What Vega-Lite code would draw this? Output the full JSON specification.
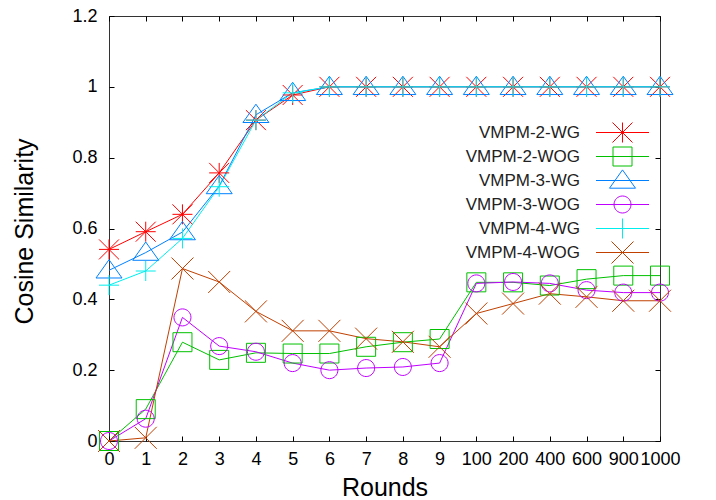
{
  "$schema": "https://vega.github.io/schema/vega-lite/v6.json",
  "width": 551,
  "height": 425,
  "autosize": "none",
  "padding": {"left": 109, "top": 16, "right": 56, "bottom": 59},
  "background": "white",
  "config": {
    "view": {"stroke": "#333", "strokeWidth": 1},
    "axis": {
      "labelFont": "Liberation Sans", "titleFont": "Liberation Sans",
      "labelColor": "#000", "titleColor": "#000", "tickColor": "#000",
      "domain": false, "grid": false, "tickSize": -5, "tickWidth": 1,
      "labelFontSize": 18, "titleFontSize": 25, "titleFontWeight": "normal"
    },
    "legend": {
      "labelFont": "Liberation Sans", "labelFontSize": 17, "labelColor": "#222"
    },
    "point": {"filled": false, "strokeWidth": 1, "size": 400, "opacity": 1}
  },
  "data": {"values": [
    {"r":"0","s":"VMPM-2-WG","v":0.541},{"r":"1","s":"VMPM-2-WG","v":0.591},{"r":"2","s":"VMPM-2-WG","v":0.64},{"r":"3","s":"VMPM-2-WG","v":0.757},{"r":"4","s":"VMPM-2-WG","v":0.906},{"r":"5","s":"VMPM-2-WG","v":0.977},{"r":"6","s":"VMPM-2-WG","v":1},{"r":"7","s":"VMPM-2-WG","v":1},{"r":"8","s":"VMPM-2-WG","v":1},{"r":"9","s":"VMPM-2-WG","v":1},{"r":"100","s":"VMPM-2-WG","v":1},{"r":"200","s":"VMPM-2-WG","v":1},{"r":"400","s":"VMPM-2-WG","v":1},{"r":"600","s":"VMPM-2-WG","v":1},{"r":"900","s":"VMPM-2-WG","v":1},{"r":"1000","s":"VMPM-2-WG","v":1},
    {"r":"0","s":"VMPM-2-WOG","v":0},{"r":"1","s":"VMPM-2-WOG","v":0.09},{"r":"2","s":"VMPM-2-WOG","v":0.279},{"r":"3","s":"VMPM-2-WOG","v":0.229},{"r":"4","s":"VMPM-2-WOG","v":0.249},{"r":"5","s":"VMPM-2-WOG","v":0.247},{"r":"6","s":"VMPM-2-WOG","v":0.247},{"r":"7","s":"VMPM-2-WOG","v":0.266},{"r":"8","s":"VMPM-2-WOG","v":0.279},{"r":"9","s":"VMPM-2-WOG","v":0.288},{"r":"100","s":"VMPM-2-WOG","v":0.448},{"r":"200","s":"VMPM-2-WOG","v":0.448},{"r":"400","s":"VMPM-2-WOG","v":0.439},{"r":"600","s":"VMPM-2-WOG","v":0.457},{"r":"900","s":"VMPM-2-WOG","v":0.467},{"r":"1000","s":"VMPM-2-WOG","v":0.467},
    {"r":"0","s":"VMPM-3-WG","v":0.482},{"r":"1","s":"VMPM-3-WG","v":0.532},{"r":"2","s":"VMPM-3-WG","v":0.59},{"r":"3","s":"VMPM-3-WG","v":0.72},{"r":"4","s":"VMPM-3-WG","v":0.921},{"r":"5","s":"VMPM-3-WG","v":0.983},{"r":"6","s":"VMPM-3-WG","v":1},{"r":"7","s":"VMPM-3-WG","v":1},{"r":"8","s":"VMPM-3-WG","v":1},{"r":"9","s":"VMPM-3-WG","v":1},{"r":"100","s":"VMPM-3-WG","v":1},{"r":"200","s":"VMPM-3-WG","v":1},{"r":"400","s":"VMPM-3-WG","v":1},{"r":"600","s":"VMPM-3-WG","v":1},{"r":"900","s":"VMPM-3-WG","v":1},{"r":"1000","s":"VMPM-3-WG","v":1},
    {"r":"0","s":"VMPM-3-WOG","v":0},{"r":"1","s":"VMPM-3-WOG","v":0.063},{"r":"2","s":"VMPM-3-WOG","v":0.349},{"r":"3","s":"VMPM-3-WOG","v":0.268},{"r":"4","s":"VMPM-3-WOG","v":0.252},{"r":"5","s":"VMPM-3-WOG","v":0.22},{"r":"6","s":"VMPM-3-WOG","v":0.2},{"r":"7","s":"VMPM-3-WOG","v":0.206},{"r":"8","s":"VMPM-3-WOG","v":0.209},{"r":"9","s":"VMPM-3-WOG","v":0.22},{"r":"100","s":"VMPM-3-WOG","v":0.445},{"r":"200","s":"VMPM-3-WOG","v":0.449},{"r":"400","s":"VMPM-3-WOG","v":0.445},{"r":"600","s":"VMPM-3-WOG","v":0.426},{"r":"900","s":"VMPM-3-WOG","v":0.419},{"r":"1000","s":"VMPM-3-WOG","v":0.419},
    {"r":"0","s":"VMPM-4-WG","v":0.44},{"r":"1","s":"VMPM-4-WG","v":0.48},{"r":"2","s":"VMPM-4-WG","v":0.572},{"r":"3","s":"VMPM-4-WG","v":0.718},{"r":"4","s":"VMPM-4-WG","v":0.906},{"r":"5","s":"VMPM-4-WG","v":0.983},{"r":"6","s":"VMPM-4-WG","v":1},{"r":"7","s":"VMPM-4-WG","v":1},{"r":"8","s":"VMPM-4-WG","v":1},{"r":"9","s":"VMPM-4-WG","v":1},{"r":"100","s":"VMPM-4-WG","v":1},{"r":"200","s":"VMPM-4-WG","v":1},{"r":"400","s":"VMPM-4-WG","v":1},{"r":"600","s":"VMPM-4-WG","v":1},{"r":"900","s":"VMPM-4-WG","v":1},{"r":"1000","s":"VMPM-4-WG","v":1},
    {"r":"0","s":"VMPM-4-WOG","v":0},{"r":"1","s":"VMPM-4-WOG","v":0.009},{"r":"2","s":"VMPM-4-WOG","v":0.487},{"r":"3","s":"VMPM-4-WOG","v":0.449},{"r":"4","s":"VMPM-4-WOG","v":0.366},{"r":"5","s":"VMPM-4-WOG","v":0.311},{"r":"6","s":"VMPM-4-WOG","v":0.311},{"r":"7","s":"VMPM-4-WOG","v":0.289},{"r":"8","s":"VMPM-4-WOG","v":0.28},{"r":"9","s":"VMPM-4-WOG","v":0.266},{"r":"100","s":"VMPM-4-WOG","v":0.36},{"r":"200","s":"VMPM-4-WOG","v":0.388},{"r":"400","s":"VMPM-4-WOG","v":0.416},{"r":"600","s":"VMPM-4-WOG","v":0.407},{"r":"900","s":"VMPM-4-WOG","v":0.396},{"r":"1000","s":"VMPM-4-WOG","v":0.396}
  ]},
  "resolve": {"axis": {"x": "independent", "y": "independent"}},
  "layer": [
    {
      "mark": {"type": "line", "strokeWidth": 1},
      "encoding": {
        "x": {"field": "r", "type": "ordinal", "sort": ["0","1","2","3","4","5","6","7","8","9","100","200","400","600","900","1000"],
              "scale": {"type": "point", "padding": 0},
              "axis": {"orient": "bottom", "title": "Rounds", "labelAngle": 0, "labelOverlap": false, "labelBound": false, "labelPadding": 14, "titleY": 54, "titleBaseline": "alphabetic"}},
        "y": {"field": "v", "type": "quantitative", "scale": {"domain": [0, 1.2], "nice": false},
              "axis": {"orient": "left", "title": "Cosine Similarity", "values": [0,0.2,0.4,0.6,0.8,1,1.2], "format": "~g", "labelPadding": 17, "titleX": -77, "titleY": 215, "titleAngle": -90, "titleBaseline": "alphabetic", "titleAlign": "center"}},
        "color": {"field": "s", "type": "nominal",
                  "scale": {"domain": ["VMPM-2-WG","VMPM-2-WOG","VMPM-3-WG","VMPM-3-WOG","VMPM-4-WG","VMPM-4-WOG"], "range": ["#ff0000","#00c000","#0080ff","#c000ff","#00eeee","#c04000"]},
                  "legend": {"orient": "none", "legendX": 503, "legendY": 106, "direction": "vertical", "title": null, "labelAlign": "right", "labelOffset": -53, "symbolSize": 400, "symbolStrokeWidth": 1, "symbolFillColor": "transparent", "rowPadding": -6.4, "padding": 0,
                             "symbolType": {"expr": "['M-1,0L1,0M0,-1L0,1M-1,-1L1,1M-1,1L1,-1','M-0.95,-0.95L0.95,-0.95L0.95,0.95L-0.95,0.95Z','M0,-1.06L1.3,0.77L-1.3,0.77Z','M0.85,0A0.85,0.85,0,1,1,-0.85,0A0.85,0.85,0,1,1,0.85,0Z','M-1,0L1,0M0,-1L0,1','M-1.1,-1.1L1.1,1.1M-1.1,1.1L1.1,-1.1'][indexof(['VMPM-2-WG','VMPM-2-WOG','VMPM-3-WG','VMPM-3-WOG','VMPM-4-WG','VMPM-4-WOG'], datum.value)] + 'M-2.65,0L2.65,0M0,-1.1M0,1.1'"}}}
      }
    },
    {
      "transform": [{"filter": {"field": "s", "equal": "VMPM-2-WG"}}],
      "mark": {"type": "point", "stroke": "#ff0000", "shape": "M-1,0L1,0M0,-1L0,1M-1,-1L1,1M-1,1L1,-1"},
      "encoding": {
        "x": {"field": "r", "type": "ordinal", "sort": ["0","1","2","3","4","5","6","7","8","9","100","200","400","600","900","1000"],
              "axis": {"orient": "top", "title": null, "labels": false}},
        "y": {"field": "v", "type": "quantitative",
              "axis": {"orient": "right", "title": null, "labels": false, "values": [0,0.2,0.4,0.6,0.8,1,1.2]}}
      }
    },
    {
      "transform": [{"filter": {"field": "s", "equal": "VMPM-2-WOG"}}],
      "mark": {"type": "point", "stroke": "#00c000", "shape": "M-0.95,-0.95L0.95,-0.95L0.95,0.95L-0.95,0.95Z"},
      "encoding": {
        "x": {"field": "r", "type": "ordinal", "sort": ["0","1","2","3","4","5","6","7","8","9","100","200","400","600","900","1000"], "axis": null},
        "y": {"field": "v", "type": "quantitative", "axis": null}
      }
    },
    {
      "transform": [{"filter": {"field": "s", "equal": "VMPM-3-WG"}}],
      "mark": {"type": "point", "stroke": "#0080ff", "shape": "M0,-1.06L1.3,0.77L-1.3,0.77Z"},
      "encoding": {
        "x": {"field": "r", "type": "ordinal", "sort": ["0","1","2","3","4","5","6","7","8","9","100","200","400","600","900","1000"], "axis": null},
        "y": {"field": "v", "type": "quantitative", "axis": null}
      }
    },
    {
      "transform": [{"filter": {"field": "s", "equal": "VMPM-3-WOG"}}],
      "mark": {"type": "point", "stroke": "#c000ff", "shape": "M0.85,0A0.85,0.85,0,1,1,-0.85,0A0.85,0.85,0,1,1,0.85,0Z"},
      "encoding": {
        "x": {"field": "r", "type": "ordinal", "sort": ["0","1","2","3","4","5","6","7","8","9","100","200","400","600","900","1000"], "axis": null},
        "y": {"field": "v", "type": "quantitative", "axis": null}
      }
    },
    {
      "transform": [{"filter": {"field": "s", "equal": "VMPM-4-WG"}}],
      "mark": {"type": "point", "stroke": "#00eeee", "shape": "M-1,0L1,0M0,-1L0,1"},
      "encoding": {
        "x": {"field": "r", "type": "ordinal", "sort": ["0","1","2","3","4","5","6","7","8","9","100","200","400","600","900","1000"], "axis": null},
        "y": {"field": "v", "type": "quantitative", "axis": null}
      }
    },
    {
      "transform": [{"filter": {"field": "s", "equal": "VMPM-4-WOG"}}],
      "mark": {"type": "point", "stroke": "#c04000", "shape": "M-1.1,-1.1L1.1,1.1M-1.1,1.1L1.1,-1.1"},
      "encoding": {
        "x": {"field": "r", "type": "ordinal", "sort": ["0","1","2","3","4","5","6","7","8","9","100","200","400","600","900","1000"], "axis": null},
        "y": {"field": "v", "type": "quantitative", "axis": null}
      }
    }
  ]
}
